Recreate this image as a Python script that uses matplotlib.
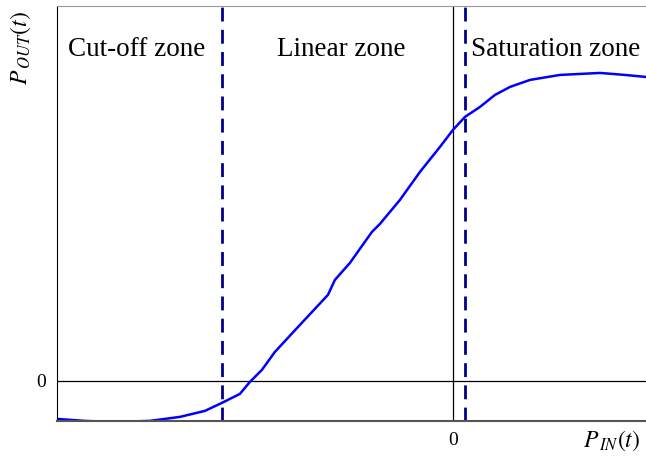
import matplotlib.pyplot as plt

plt.rcParams['font.family'] = ['Liberation Serif', 'DejaVu Serif']
plt.rcParams['mathtext.fontset'] = 'stix'

# amplifier transfer curve (input power vs output power)
p_in = [-39.6, -36.8, -33.8, -30.3, -27.3, -24.8, -23.1, -21.3, -20.3, -19.1,
        -17.8, -15.3, -12.5, -11.8, -10.3, -8.1, -7.3, -5.3, -3.3, -1.3,
        0.0, 1.2, 2.7, 4.2, 5.7, 7.7, 10.7, 14.7, 17.2, 19.3]
p_out = [-3.8, -4.0, -4.1, -4.0, -3.6, -3.0, -2.2, -1.3, -0.1, 1.1,
         2.9, 5.6, 8.6, 10.1, 11.8, 14.9, 15.7, 18.1, 20.9, 23.4,
         25.1, 26.4, 27.4, 28.6, 29.4, 30.1, 30.6, 30.8, 30.6, 30.4]

zone_edges = [-23.1, 1.2]
zone_names = ['Cut-off zone', 'Linear zone', 'Saturation zone']
zone_x = [-31.6, -11.2, 10.3]

fig = plt.figure(figsize=(6.46, 4.57), dpi=100)
ax = fig.add_axes([0.088, 0.079, 0.912, 0.908])

ax.axhline(0, color='black', lw=0.9)
ax.axvline(0, color='black', lw=0.9)
for xe in zone_edges:
    ax.axvline(xe, color='#00008b', lw=2, ls=(0, (5, 3)))

ax.plot(p_in, p_out, color='#0000ff', lw=1.8)

for name, xc in zip(zone_names, zone_x):
    ax.text(xc, 33.1, name, ha='center', va='center', fontsize=19.5)

ax.set_xlim(-39.6, 19.3)
ax.set_ylim(-4.0, 37.5)
ax.set_xticks([0])
ax.set_yticks([0])
ax.tick_params(length=0, labelsize=14, pad=8)

ax.spines['right'].set_visible(False)
ax.spines['top'].set_color('#999999')
ax.spines['bottom'].set_color('#555555')
ax.spines['bottom'].set_linewidth(1.5)

fig.text(0.032, 0.895, r'$P_{\,OUT}(t)$', rotation=90, ha='center', va='center', fontsize=17)
fig.text(0.947, 0.035, r'$P_{\,IN}(t)$', ha='center', va='center', fontsize=17)

fig.savefig('out.png', dpi=100)
